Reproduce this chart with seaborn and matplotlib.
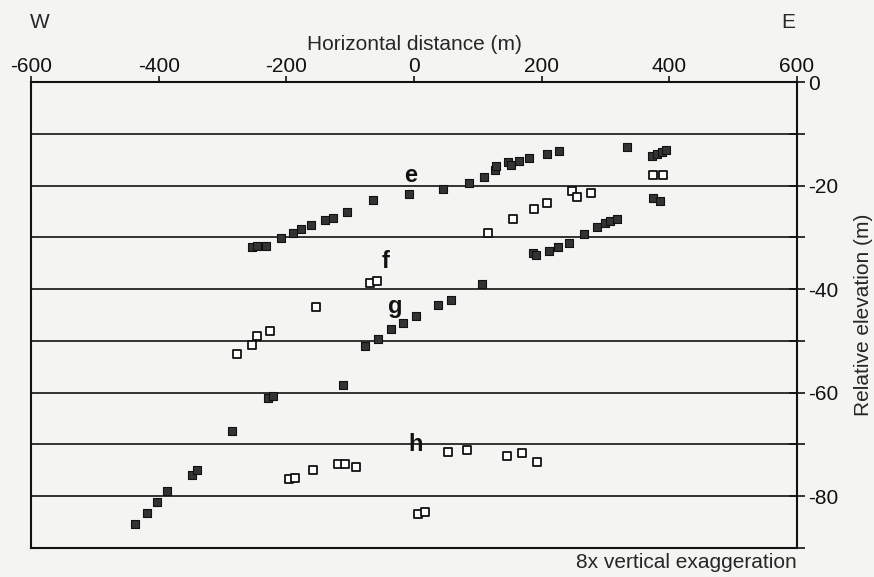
import matplotlib
matplotlib.use("Agg")
import matplotlib.pyplot as plt
import seaborn as sns
import pandas as pd

# Filled squares: horizontal distance (m) and relative elevation (m)
solid_x = [-437, -419, -403, -387, -348, -340, -285, -229, -221, -111,
           -77, -56, -36, -17, 3, 38, 58, 107,
           -254, -246, -232, -208, -190, -177, -161, -139, -127, -105,
           -64, -8, 45, 86, 110, 127, 129, 147, 152, 165, 180, 208, 227,
           334, 373, 381, 389, 395, 375, 386,
           187, 191, 212, 226, 243, 266, 287, 299, 307, 318]
solid_y = [-85.3, -83.2, -81.1, -79.0, -75.9, -74.9, -67.4, -61.0, -60.6, -58.5,
           -51.0, -49.6, -47.7, -46.5, -45.2, -43.1, -42.1, -39.0,
           -31.9, -31.7, -31.7, -30.1, -29.2, -28.4, -27.6, -26.6, -26.3, -25.1,
           -22.8, -21.6, -20.7, -19.5, -18.3, -17.0, -16.2, -15.4, -16.0, -15.3,
           -14.7, -13.9, -13.3,
           -12.5, -14.3, -13.9, -13.5, -13.1, -22.4, -23.0,
           -33.0, -33.4, -32.6, -31.9, -31.1, -29.3, -28.0, -27.2, -26.8, -26.4]

# Open squares
open_x = [-154, -226, -246, -254, -277, -69, -58,
          116, 155, 188, 208, 248, 255, 277, 375, 390,
          -196, -187, -158, -119, -108, -91, 53, 83, 146, 169, 193,
          6, 17]
open_y = [-43.4, -48.1, -49.0, -50.8, -52.5, -38.8, -38.4,
          -29.2, -26.4, -24.5, -23.4, -21.0, -22.2, -21.4, -18.0, -18.0,
          -76.6, -76.4, -74.9, -73.7, -73.7, -74.3, -71.4, -71.0, -72.2, -71.6, -73.4,
          -83.4, -83.0]

# Terrace labels
label_text = ["e", "f", "g", "h"]
label_x = [-6, -44, -30, 2]
label_y = [-18.1, -34.6, -43.4, -70.1]

x_ticks = [-600, -400, -200, 0, 200, 400, 600]
y_ticks = [0, -10, -20, -30, -40, -50, -60, -70, -80, -90]
y_ticklabels = ["0", "", "-20", "", "-40", "", "-60", "", "-80", ""]

sns.set_style("white")
plt.rcParams["font.family"] = ["Liberation Sans", "DejaVu Sans"]
plt.rcParams["font.size"] = 15

bg = "#f4f4f2"
fig = plt.figure(figsize=(8.74, 5.77), dpi=100, facecolor=bg)
ax = fig.add_axes([31 / 874, 1 - 548 / 577, 766 / 874, 466 / 577])
ax.set_facecolor(bg)

solid = pd.DataFrame({"x": solid_x, "y": solid_y})
hollow = pd.DataFrame({"x": open_x, "y": open_y})

sns.scatterplot(data=solid, x="x", y="y", marker="s", s=34, color="#333333",
                edgecolor="#111111", linewidth=0.8, ax=ax, zorder=3)
sns.scatterplot(data=hollow, x="x", y="y", marker="s", s=34, color="white",
                edgecolor="#111111", linewidth=1.3, ax=ax, zorder=3)

for t, lx, ly in zip(label_text, label_x, label_y):
    ax.text(lx, ly, t, ha="center", va="center", fontsize=17,
            fontweight="bold", color="#111111", zorder=4)

ax.set_xlim(-600, 600)
ax.set_ylim(-90, 0)

# Top horizontal axis
ax.xaxis.tick_top()
ax.xaxis.set_label_position("top")
ax.set_xticks(x_ticks)
ax.set_xticklabels([str(v) for v in x_ticks])
ax.tick_params(axis="x", direction="out", length=4.5, width=1.2, pad=0,
               colors="#111111", labelsize=15)
ax.set_xlabel("Horizontal distance (m)", fontsize=15, labelpad=5)

# Right vertical axis
ax.yaxis.tick_right()
ax.yaxis.set_label_position("right")
ax.set_yticks(y_ticks)
ax.set_yticklabels(y_ticklabels)
ax.tick_params(axis="y", direction="inout", length=12, width=1.2, pad=2,
               colors="#111111", labelsize=15)
ax.set_ylabel("Relative elevation (m)", fontsize=15, rotation=90, labelpad=11)

ax.grid(axis="y", color="#111111", linewidth=1.2)
ax.grid(axis="x", visible=False)
for sp in ax.spines.values():
    sp.set_visible(True)
    sp.set_color("#111111")
    sp.set_linewidth(1.5)

ax.text(0.012, 1.127, "W", transform=ax.transAxes, ha="center", va="center", fontsize=15)
ax.text(0.988, 1.127, "E", transform=ax.transAxes, ha="center", va="center", fontsize=15)
ax.text(1.0, -0.032, "8x vertical exaggeration", transform=ax.transAxes,
        ha="right", va="center", fontsize=15)

fig.savefig("out.png", dpi=100, facecolor=bg)
